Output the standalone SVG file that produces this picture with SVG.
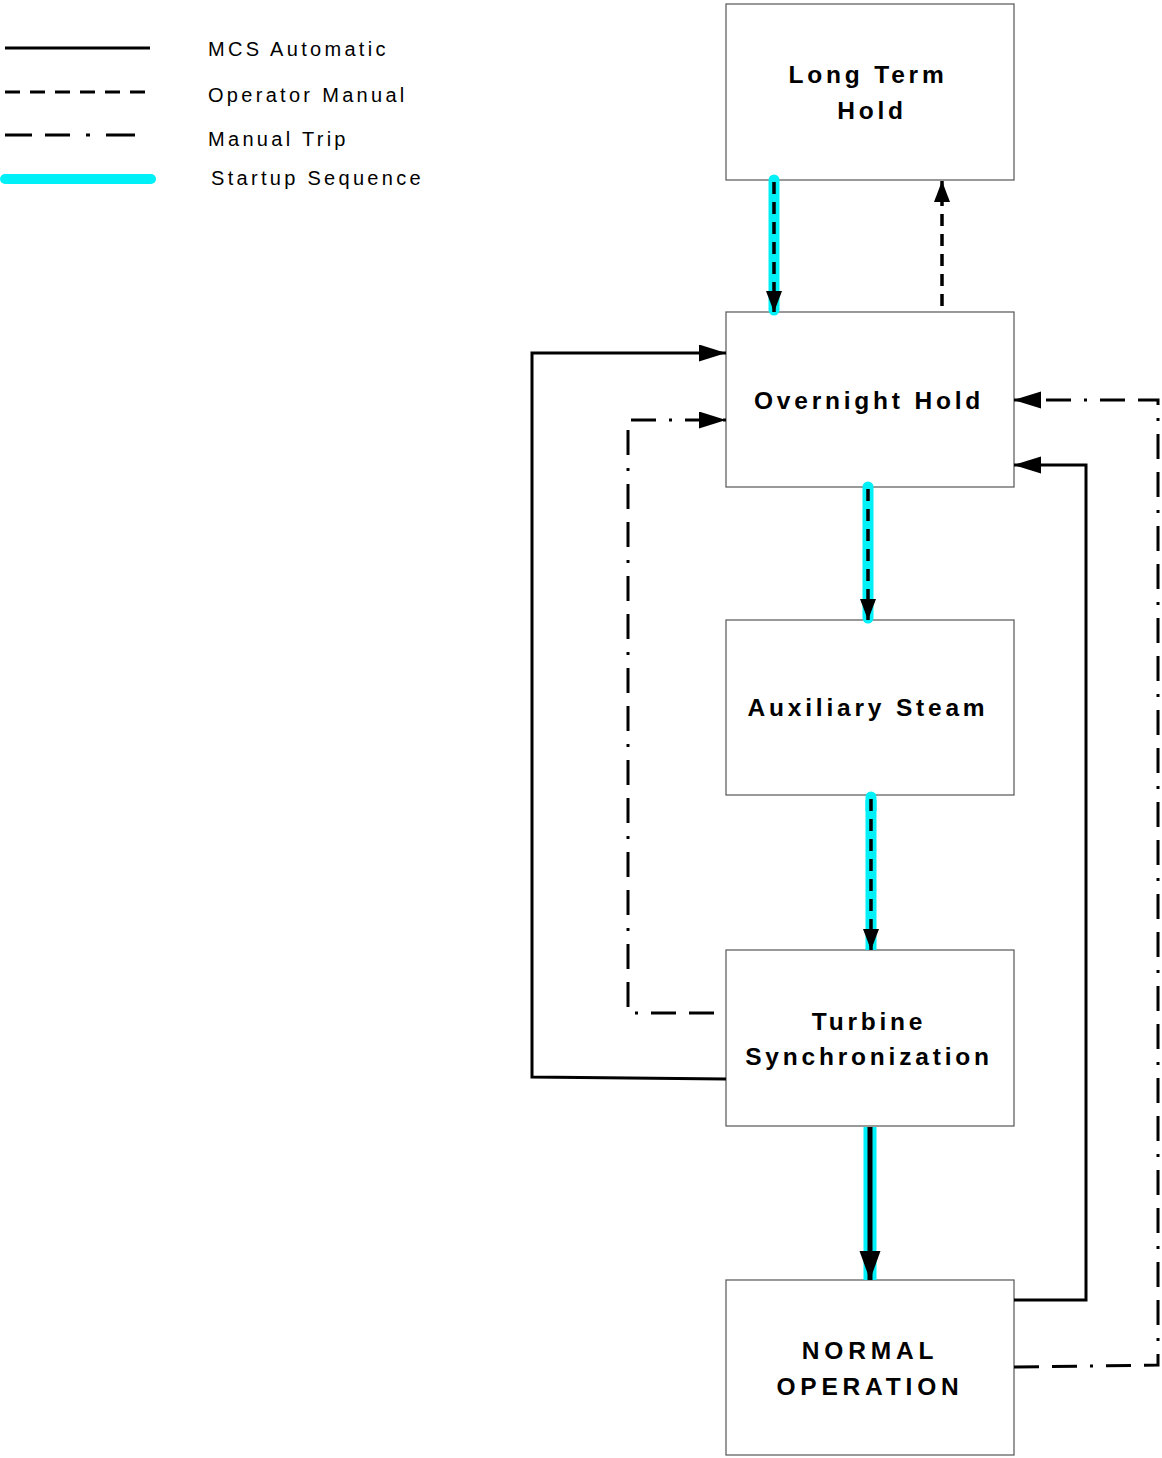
<svg xmlns="http://www.w3.org/2000/svg" width="1162" height="1458" viewBox="0 0 1162 1458">
<defs>
<marker id="arr" markerUnits="userSpaceOnUse" markerWidth="28" markerHeight="18" refX="27" refY="8.5" orient="auto">
<path d="M0,0 L27,8.5 L0,17 z" fill="#000"/>
</marker>
<marker id="arrs" markerUnits="userSpaceOnUse" markerWidth="22" markerHeight="18" refX="21" refY="8" orient="auto">
<path d="M0,0 L21,8 L0,16 z" fill="#000"/>
</marker>
<marker id="arrb" markerUnits="userSpaceOnUse" markerWidth="30" markerHeight="22" refX="29" refY="10.5" orient="auto">
<path d="M0,0 L29,10.5 L0,21 z" fill="#000"/>
</marker>
<style>
.box{fill:#fff;stroke:#555;stroke-width:1.2}
.lbl{font-family:"Liberation Sans",Arial,sans-serif;font-weight:bold;font-size:24.5px;letter-spacing:3.8px;fill:#000;text-anchor:middle}
.caps{letter-spacing:4.8px}
.leg{font-family:"Liberation Sans",Arial,sans-serif;font-size:20px;letter-spacing:3.3px;fill:#000}
.solid{fill:none;stroke:#000;stroke-width:3}
.dash{fill:none;stroke:#000;stroke-width:3.5;stroke-dasharray:12 8}
.dashdot{fill:none;stroke:#000;stroke-width:3;stroke-dasharray:25 13 25 13 3 13}
.cyan{fill:none;stroke:#00f0f8;stroke-width:11;stroke-linecap:round}
</style>
</defs>
<g id="legend">
<line x1="5" y1="48" x2="150" y2="48" class="solid"/>
<line x1="5" y1="92" x2="150" y2="92" class="dash" style="stroke-width:3;stroke-dasharray:15 10"/>
<line x1="5" y1="135" x2="135" y2="135" class="dashdot" style="stroke-dasharray:27 13 25 16 4 16 28 0"/>
<line x1="5" y1="179" x2="151" y2="179" class="cyan" style="stroke-width:10"/>
<text x="208" y="56" class="leg">MCS Automatic</text>
<text x="208" y="102" class="leg">Operator Manual</text>
<text x="208" y="146" class="leg">Manual Trip</text>
<text x="211" y="185" class="leg">Startup Sequence</text>
</g>
<g id="long-term-hold">
<rect x="726" y="4" width="288" height="176" class="box"/>
<text x="868" y="83" class="lbl">Long Term</text>
<text x="872" y="119" class="lbl">Hold</text>
</g>
<g id="overnight-hold">
<rect x="726" y="312" width="288" height="175" class="box"/>
<text x="869" y="409" class="lbl">Overnight Hold</text>
</g>
<g id="auxiliary-steam">
<rect x="726" y="620" width="288" height="175" class="box"/>
<text x="868" y="716" class="lbl">Auxiliary Steam</text>
</g>
<g id="turbine-synchronization">
<rect x="726" y="950" width="288" height="176" class="box"/>
<text x="869" y="1030" class="lbl">Turbine</text>
<text x="869" y="1065" class="lbl">Synchronization</text>
</g>
<g id="normal-operation">
<rect x="726" y="1280" width="288" height="175" class="box"/>
<text x="870" y="1359" class="lbl caps">NORMAL</text>
<text x="870" y="1395" class="lbl caps">OPERATION</text>
</g>
<g id="connectors">
<line x1="774" y1="180" x2="774" y2="310" class="cyan"/>
<line x1="774" y1="182" x2="774" y2="312" class="dash" marker-end="url(#arrs)"/>
<line x1="942" y1="306" x2="942" y2="181" class="dash" marker-end="url(#arrs)"/>
<line x1="868" y1="487" x2="868" y2="618" class="cyan"/>
<line x1="868" y1="489" x2="868" y2="620" class="dash" marker-end="url(#arrs)"/>
<line x1="871" y1="797" x2="871" y2="810" class="cyan"/>
<line x1="871" y1="800" x2="871" y2="950" class="cyan" style="stroke-linecap:butt"/>
<line x1="871" y1="799" x2="871" y2="950" class="dash" marker-end="url(#arrs)"/>
<line x1="870" y1="1127" x2="870" y2="1280" class="cyan" style="stroke-width:13;stroke-linecap:butt"/>
<line x1="870" y1="1127" x2="870" y2="1280" class="solid" style="stroke-width:5" marker-end="url(#arrb)"/>
<polyline points="726,1079 532,1077 532,353 726,353" class="solid" marker-end="url(#arr)"/>
<polyline points="714,1013 628,1013 628,420 726,420" class="dashdot" marker-end="url(#arr)"/>
<polyline points="1014,1300 1086,1300 1086,465 1014,465" class="solid" marker-end="url(#arr)"/>
<polyline points="1014,1367 1158,1365 1158,400 1014,400" class="dashdot" marker-end="url(#arr)"/>
</g>
</svg>
